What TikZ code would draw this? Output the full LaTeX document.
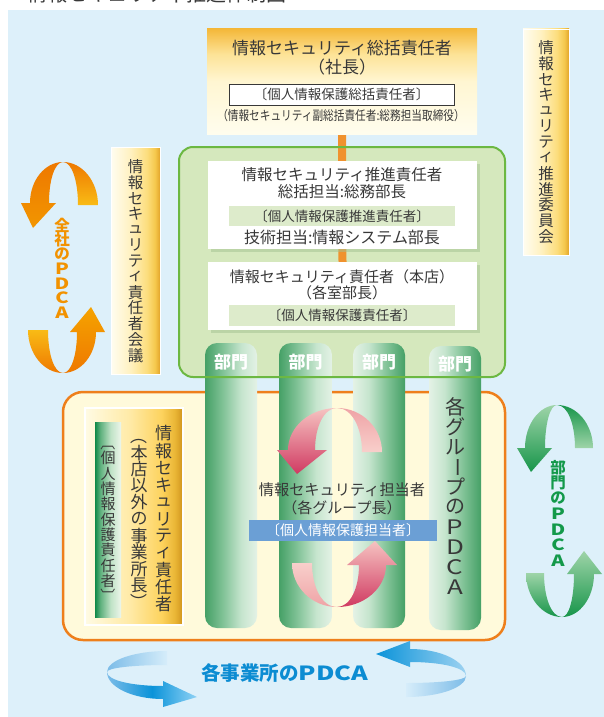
\documentclass[tikz,border=0pt]{standalone}
\usepackage{fontspec}
\setmainfont{Noto Sans CJK JP}
\newfontfamily\jpc{Noto Sans CJK JP}[FakeStretch=0.82]
\newfontfamily\jpw{Noto Sans CJK JP}[FakeStretch=1.3]
\usepackage{graphicx}
\usetikzlibrary{shadows}
\pgfdeclarelayer{back}\pgfdeclarelayer{mid}
\pgfsetlayers{back,mid,main}

\definecolor{bluebg}{HTML}{DDF0FA}
\definecolor{txtc}{HTML}{383838}
\definecolor{tbA}{HTML}{FFFDEE}\definecolor{tbB}{HTML}{FFF6D2}
\definecolor{tbC}{HTML}{FDE397}\definecolor{tbD}{HTML}{F4B83A}
\definecolor{gbA}{HTML}{FFFDF0}\definecolor{gbB}{HTML}{FFF1C0}
\definecolor{gbC}{HTML}{FCDD7C}\definecolor{gbD}{HTML}{F5C84C}\definecolor{gbE}{HTML}{E2A42A}
\definecolor{gcA}{HTML}{FFFBE4}\definecolor{gcB}{HTML}{FFEAA6}
\definecolor{gcC}{HTML}{FDD35E}\definecolor{gcD}{HTML}{E9B535}\definecolor{gcE}{HTML}{CF931C}
\definecolor{stA}{HTML}{0F8948}\definecolor{stB}{HTML}{5DB07C}
\definecolor{stC}{HTML}{BFE2C6}\definecolor{stD}{HTML}{EDF6EA}
\definecolor{cdA}{HTML}{45A066}\definecolor{cdB}{HTML}{80C296}
\definecolor{cdC}{HTML}{C6E5CE}\definecolor{cdD}{HTML}{E4F2E6}
\definecolor{gpFill}{HTML}{D5E8BD}\definecolor{gpLine}{HTML}{6CB842}
\definecolor{band}{HTML}{DDEBCB}
\definecolor{shadowc}{HTML}{A3C291}
\definecolor{connc}{HTML}{F0922E}
\definecolor{opFill}{HTML}{FFFADB}\definecolor{opLine}{HTML}{EE7F1B}
\definecolor{blueband}{HTML}{6B9FD5}
\definecolor{pkL}{HTML}{F6C3C1}\definecolor{pkD}{HTML}{D03A62}
\definecolor{pkM}{HTML}{EFA3A6}\definecolor{pkLL}{HTML}{F8CFCB}
\definecolor{orD}{HTML}{EE7800}\definecolor{orM}{HTML}{F29600}
\definecolor{orY}{HTML}{F9BB15}\definecolor{orMM}{HTML}{F5A300}
\definecolor{grL}{HTML}{9ED4A8}\definecolor{grD}{HTML}{17954A}
\definecolor{blM}{HTML}{7CBCE8}\definecolor{blP}{HTML}{D6EDFA}
\definecolor{blD}{HTML}{0A93D9}\definecolor{blH}{HTML}{8FD2F5}\definecolor{blL}{HTML}{9DD2F1}
\definecolor{orText}{HTML}{F29200}\definecolor{grText}{HTML}{13994A}\definecolor{blText}{HTML}{0C8CD2}

\pgfdeclareverticalshading{topboxsh}{100bp}{color(0bp)=(tbA); color(25bp)=(tbA); color(50bp)=(tbB); color(63bp)=(tbC); color(75bp)=(tbD); color(100bp)=(tbD)}
\pgfdeclarehorizontalshading{barsh}{100bp}{color(0bp)=(gbA); color(25bp)=(gbA); color(45bp)=(gbB); color(62bp)=(gbC); color(70bp)=(gbD); color(75bp)=(gbE); color(100bp)=(gbE)}
\pgfdeclarehorizontalshading{goldsh}{100bp}{color(0bp)=(gcA); color(25bp)=(gcA); color(48bp)=(gcB); color(64bp)=(gcC); color(71bp)=(gcD); color(75bp)=(gcE); color(100bp)=(gcE)}
\pgfdeclarehorizontalshading{stripsh}{100bp}{color(0bp)=(stA); color(25bp)=(stA); color(35bp)=(stB); color(55bp)=(stC); color(75bp)=(stD); color(100bp)=(stD)}
\pgfdeclarehorizontalshading{coldarkL}{100bp}{color(0bp)=(cdA); color(25bp)=(cdA); color(42bp)=(cdB); color(60bp)=(cdC); color(75bp)=(cdD); color(100bp)=(cdD)}
\pgfdeclarehorizontalshading{coldarkR}{100bp}{color(0bp)=(cdD); color(25bp)=(cdD); color(40bp)=(cdC); color(58bp)=(cdB); color(75bp)=(cdA); color(100bp)=(cdA)}

\newcommand\fsz[1]{\fontsize{#1}{#1}\selectfont}
% one half of a twisted cycle arrow, with the head; cusp at the origin
\newcommand\headhalf[8]{\path[#1] (0,0) .. controls ({0.55*(#2)},0) and (#2,{0.45*(#4)}) .. (#2,#4) -- (#5,#4) -- (#7,#8) -- (#6,#4) -- (#3,#4) .. controls (#3,{0.45*(#4)}) and ({0.6*(#3)},0) .. (0,0) -- cycle;}
% the other half, with a cut tail
\newcommand\tailhalf[4]{\path[#1] (0,0) .. controls ({0.55*(#2)},0) and (#2,{0.45*(#4)}) .. (#2,#4) -- (#3,#4) .. controls (#3,{0.45*(#4)}) and ({0.6*(#3)},0) .. (0,0) -- cycle;}
% vertical text: name, x, y centre, pitch, count, style, list
\newcommand\vtext[7]{\foreach \ch [count=\i] in {#7}{\node[vch,#6] (#1\i) at (#2,{#3+(\i-(#5+1)/2)*#4}) {\ch};}}
\newcommand\rv[1]{\rotatebox{-90}{#1}}

\tikzset{
  plain/.style={inner sep=0pt, outer sep=0pt},
  txt/.style={plain, text=txtc},
  vch/.style={plain, text=txtc},
  gbar/.style={plain, shade, shading=barsh, draw=white, line width=0.8pt},
  whitebox/.style={plain, fill=white, drop shadow={shadow xshift=3pt, shadow yshift=-3pt, fill=shadowc}},
  bandbox/.style={plain, fill=band, text=txtc},
  conn/.style={connc, line width=8pt},
  colL/.style={plain, shade, shading=coldarkL, rounded corners=12pt},
  colR/.style={plain, shade, shading=coldarkR, rounded corners=12pt},
  bumon/.style={plain, text=white, font=\fsz{17}\bfseries},
}

\begin{document}
\begin{tikzpicture}[x=1pt,y=-1pt]
\useasboundingbox (0,0) rectangle (604,717);

% title, cut at the top edge
\begin{scope}
\clip (0,0) rectangle (604,10);
\node[txt, font=\fsz{20}] (title) at (157,-6) {情報セキュリティ推進体制図};
\end{scope}

\begin{pgfonlayer}{back}
\fill[bluebg] (8,10) rectangle (604,717);
\node[gbar, minimum width=46pt, minimum height=226pt] (rbar) at (546,142) {};
\node[gbar, minimum width=49pt, minimum height=227pt] (lbar) at (135.5,260.5) {};
\node[plain, fill=gpFill, rounded corners=14pt, minimum width=326pt, minimum height=230pt] (gpanel) at (342,262) {};
\end{pgfonlayer}

% top box
\node[plain, shade, shading=topboxsh, minimum width=270pt, minimum height=105pt] (top) at (342,81.5) {};
\node[txt, font=\fsz{17}] (t1) at (342,48) {情報セキュリティ総括責任者};
\node[txt, font=\fsz{17}] (t2) at (342,67) {（社長）};
\node[plain, fill=white, draw=txtc, line width=0.8pt, minimum width=225pt, minimum height=21pt, text=txtc, font=\fsz{13.5}] (t3) at (341.5,94.5) {〔個人情報保護総括責任者〕};
\node[txt, font=\jpc\fsz{13}] (t4) at (341,116) {（情報セキュリティ副総括責任者:総務担当取締役）};

% vertical bars text
\vtext{rv}{546}{142}{15.7}{13}{font=\fsz{15.5}}{情,報,セ,キ,ュ,リ,テ,ィ,推,進,委,員,会}
\vtext{lv}{135.5}{261}{15.7}{13}{font=\fsz{15.5}}{情,報,セ,キ,ュ,リ,テ,ィ,責,任,者,会,議}

% green panel boxes
\node[whitebox, minimum width=269pt, minimum height=88pt] (box1) at (342.5,205) {};
\node[txt, font=\fsz{15.5}] (b1a) at (342,175) {情報セキュリティ推進責任者};
\node[txt, font=\fsz{15.5}] (b1b) at (342,192) {総括担当:総務部長};
\node[bandbox, minimum width=226pt, minimum height=20pt, font=\fsz{13.5}] (b1c) at (342,216) {〔個人情報保護推進責任者〕};
\node[txt, font=\fsz{16}] (b1d) at (342,237) {技術担当:情報システム部長};

\node[whitebox, minimum width=269pt, minimum height=68pt] (box2) at (342.5,296) {};
\node[txt, font=\fsz{15}] (b2a) at (342,277) {情報セキュリティ責任者（本店）};
\node[txt, font=\fsz{15}] (b2b) at (342,293) {（各室部長）};
\node[bandbox, minimum width=226pt, minimum height=21pt, font=\fsz{13.5}] (b2c) at (342,315.5) {〔個人情報保護責任者〕};

\begin{pgfonlayer}{mid}
\draw[conn] (top.south) -- (box2.north);
\end{pgfonlayer}

% orange panel
\node[plain, fill=opFill, draw=opLine, line width=2.5pt, rounded corners=20pt, minimum width=442pt, minimum height=248pt] (opanel) at (284,516) {};

% golden box with the strip
\node[plain, shade, shading=goldsh, draw=white, line width=1.5pt, minimum width=98pt, minimum height=217pt] (gbox) at (134,516.5) {};
\node[plain, shade, shading=stripsh, minimum width=26pt, minimum height=195pt] (strip) at (108,519.5) {};
\vtext{gv}{163.5}{519}{17.1}{11}{font=\fsz{17}}{情,報,セ,キ,ュ,リ,テ,ィ,責,任,者}
\vtext{gw}{139}{519}{16.6}{11}{font=\fsz{17}}{\rv{（},本,店,以,外,の,事,業,所,長,\rv{）}}
\vtext{sv}{108}{519.5}{15.3}{11}{font=\fsz{15}}{\rv{〔},個,人,情,報,保,護,責,任,者,\rv{〕}}

% columns
\node[colL, minimum width=52pt, minimum height=285pt] (col1) at (231,485.5) {};
\node[colL, minimum width=53pt, minimum height=285pt] (col2) at (305.5,485.5) {};
\node[colR, minimum width=52pt, minimum height=285pt] (col3) at (379,485.5) {};
\node[colR, minimum width=52pt, minimum height=284pt] (col4) at (455,488) {};
\node[bumon] (d1) at (231,362) {部門};
\node[bumon] (d2) at (305.5,362) {部門};
\node[bumon] (d3) at (379,362) {部門};
\node[bumon] (d4) at (455,364) {部門};
\vtext{cv}{455}{497}{20}{10}{font=\fsz{20}}{各,グ,ル,\rv{ー},プ,の,\jpw P,\jpw D,\jpw C,\jpw A}

% green panel border over the columns
\node[plain, draw=gpLine, line width=2pt, rounded corners=14pt, minimum width=326pt, minimum height=230pt] (gpanelb) at (342,262) {};

% pink cycle
\begin{scope}[shift={(337,408)}, x={(1pt,0pt)}, y={(0pt,-1pt)}]
\headhalf{shade, top color=pkL, bottom color=pkD}{-49}{-22}{42}{-60}{-10}{-40}{66}
\tailhalf{shade, top color=pkM, bottom color=pkLL}{45}{25}{44}
\end{scope}
\begin{scope}[shift={(337,607)}, x={(-1pt,0pt)}, y={(0pt,1pt)}]
\headhalf{shade, top color=pkL, bottom color=pkD}{-49}{-22}{42}{-60}{-10}{-38}{66}
\tailhalf{shade, top color=pkLL, bottom color=pkM}{45}{25}{44}
\end{scope}

\node[txt, font=\fsz{15.2}] (c1) at (342,490) {情報セキュリティ担当者};
\node[txt, font=\fsz{15}] (c2) at (342,508) {（各グループ長）};
\node[plain, fill=blueband, text=white, minimum width=188pt, minimum height=21pt, font=\fsz{14}] (c3) at (343,530.5) {〔個人情報保護担当者〕};

% orange cycle (全社)
\begin{scope}[shift={(63,162)}, x={(1pt,0pt)}, y={(0pt,-1pt)}]
\headhalf{shade, top color=orD, bottom color=orM}{-33}{-14}{41}{-42}{-7}{-30}{66}
\tailhalf{shade, top color=orD, bottom color=orY}{35}{15}{43}
\end{scope}
\begin{scope}[shift={(63,373)}, x={(-1pt,0pt)}, y={(0pt,1pt)}]
\headhalf{shade, top color=orMM, bottom color=orD}{-33}{-14}{41}{-42}{-7}{-28}{66}
\tailhalf{shade, top color=orY, bottom color=orD}{35}{15}{43}
\end{scope}
\vtext{ov}{62}{269}{14.5}{7}{font=\fsz{15.5}\bfseries, text=orText}{全,社,の,\jpw P,\jpw D,\jpw C,\jpw A}

% green cycle (部門)
\begin{scope}[shift={(557,405)}, x={(1pt,0pt)}, y={(0pt,-1pt)}]
\headhalf{shade, top color=grL, bottom color=grD}{-32}{-12}{43}{-40}{-5}{-26}{67}
\tailhalf{shade, top color=grD, bottom color=grL}{36}{18}{43}
\end{scope}
\begin{scope}[shift={(562,617)}, x={(-1pt,0pt)}, y={(0pt,1pt)}]
\headhalf{shade, top color=grL, bottom color=grD}{-32}{-12}{43}{-40}{-5}{-22}{66}
\tailhalf{shade, top color=grL, bottom color=grD}{36}{18}{44}
\end{scope}
\vtext{mv}{558}{514}{15.5}{7}{font=\fsz{15.5}\bfseries, text=grText}{部,門,の,\jpw P,\jpw D,\jpw C,\jpw A}

% blue cycle (各事業所)
\begin{scope}[shift={(107,672)}, x={(0pt,1pt)}, y={(1pt,0pt)}]
\tailhalf{shade, left color=blM, right color=blP}{21}{7}{60}
\headhalf{shade, left color=blM, right color=blH, middle color=blD}{-27}{-14}{56}{-35}{-9}{-25}{90}
\end{scope}
\begin{scope}[shift={(466,676)}, x={(0pt,-1pt)}, y={(-1pt,0pt)}]
\headhalf{shade, left color=blD, right color=blL}{-27}{-14}{56}{-35}{-9}{-22}{90}
\tailhalf{shade, left color=blP, right color=blM}{21}{7}{60}
\end{scope}
\node[plain, text=blText, font=\fsz{19.5}\bfseries] (pdcab) at (285,673) {各事業所の{\jpw PDCA}};

\end{tikzpicture}
\end{document}
